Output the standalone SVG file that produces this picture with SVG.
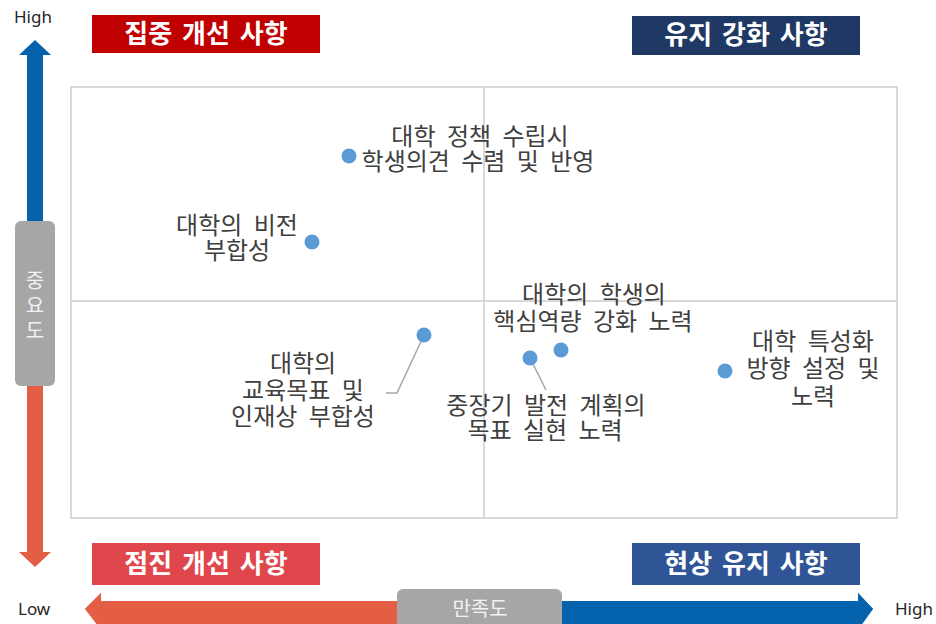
<svg xmlns="http://www.w3.org/2000/svg" width="936" height="624" viewBox="0 0 936 624">
<style>
.lbl{font-family:"Noto Sans CJK KR","Noto Sans",sans-serif;font-size:24px;fill:#404040;text-anchor:middle;word-spacing:6px}
.ttl{font-family:"Noto Sans CJK KR","Noto Sans",sans-serif;font-size:26px;font-weight:bold;fill:#ffffff;text-anchor:middle;word-spacing:4px}
.ax{font-family:"Noto Sans","Noto Sans CJK KR",sans-serif;font-size:17px;fill:#262626}
.axk{font-family:"Noto Sans CJK KR",sans-serif;font-size:20px;fill:#f2f2f2;text-anchor:middle}
.dot{fill:#5B9BD5}
.lead{fill:none;stroke:#A6A6A6;stroke-width:1.5}
.grid{stroke:#D9D9D9;stroke-width:2;fill:none}
</style>
<rect width="936" height="624" fill="#ffffff"/>
<g id="frame">
<rect class="grid" x="71" y="87" width="826" height="431"/>
<line class="grid" x1="484" y1="87" x2="484" y2="518"/>
<line class="grid" x1="71" y1="301" x2="897" y2="301"/>
</g>
<g id="axis-y">
<polygon points="35,40 51,55 43,55 43,230 27,230 27,55 19,55" fill="#0562AC"/>
<polygon points="35,567 51,552 43,552 43,380 27,380 27,552 19,552" fill="#E45E45"/>
<rect x="15" y="221" width="40" height="165" rx="6" fill="#A6A6A6"/>
<text class="axk" x="35" y="288">중</text>
<text class="axk" x="35" y="313">요</text>
<text class="axk" x="35" y="338">도</text>
<text class="ax" x="14" y="23">High</text>
</g>
<g id="axis-x">
<polygon points="85,609 101,593 101,601 410,601 410,630 101,630" fill="#E45E45"/>
<polygon points="873,609 858,593 858,601 550,601 550,630 858,630" fill="#0562AC"/>
<polygon points="858,593 873,609 858,625" fill="#0562AC"/>
<polygon points="101,593 85,609 101,625" fill="#E45E45"/>
<rect x="397" y="589" width="165" height="45" rx="6" fill="#A6A6A6"/>
<text class="axk" x="480" y="616">만족도</text>
<text class="ax" x="18" y="615">Low</text>
<text class="ax" x="895" y="615">High</text>
</g>
<g id="q-top-left"><rect x="92" y="15" width="228" height="38" fill="#C00000"/><text class="ttl" x="206" y="43">집중 개선 사항</text></g>
<g id="q-top-right"><rect x="632" y="16" width="228" height="39" fill="#1F3864"/><text class="ttl" x="746" y="44">유지 강화 사항</text></g>
<g id="q-bottom-left"><rect x="92" y="543" width="228" height="42" fill="#E0474C"/><text class="ttl" x="206" y="573">점진 개선 사항</text></g>
<g id="q-bottom-right"><rect x="632" y="543" width="228" height="42" fill="#2F5597"/><text class="ttl" x="746" y="573">현상 유지 사항</text></g>
<g id="connectors">
<polyline class="lead" points="424,335 397,393 386,393"/>
<polyline class="lead" points="530,358 546,390"/>
</g>
<g id="p1"><circle class="dot" cx="349" cy="156" r="7.5"/><text class="lbl" x="480" y="145">대학 정책 수립시</text><text class="lbl" x="478" y="170">학생의견 수렴 및 반영</text></g>
<g id="p2"><circle class="dot" cx="312" cy="242" r="7.5"/><text class="lbl" x="237" y="234">대학의 비전</text><text class="lbl" x="237" y="259">부합성</text></g>
<g id="p3"><circle class="dot" cx="424" cy="335" r="7.5"/><text class="lbl" x="303" y="372">대학의</text><text class="lbl" x="303" y="399">교육목표 및</text><text class="lbl" x="303" y="425">인재상 부합성</text></g>
<g id="p4"><circle class="dot" cx="561" cy="350" r="7.5"/><text class="lbl" x="594" y="303">대학의 학생의</text><text class="lbl" x="593" y="330">핵심역량 강화 노력</text></g>
<g id="p5"><circle class="dot" cx="530" cy="358" r="7.5"/><text class="lbl" x="546" y="414">중장기 발전 계획의</text><text class="lbl" x="545" y="439">목표 실현 노력</text></g>
<g id="p6"><circle class="dot" cx="725" cy="371" r="7.5"/><text class="lbl" x="813" y="350">대학 특성화</text><text class="lbl" x="813" y="377">방향 설정 및</text><text class="lbl" x="813" y="405">노력</text></g>
</svg>
